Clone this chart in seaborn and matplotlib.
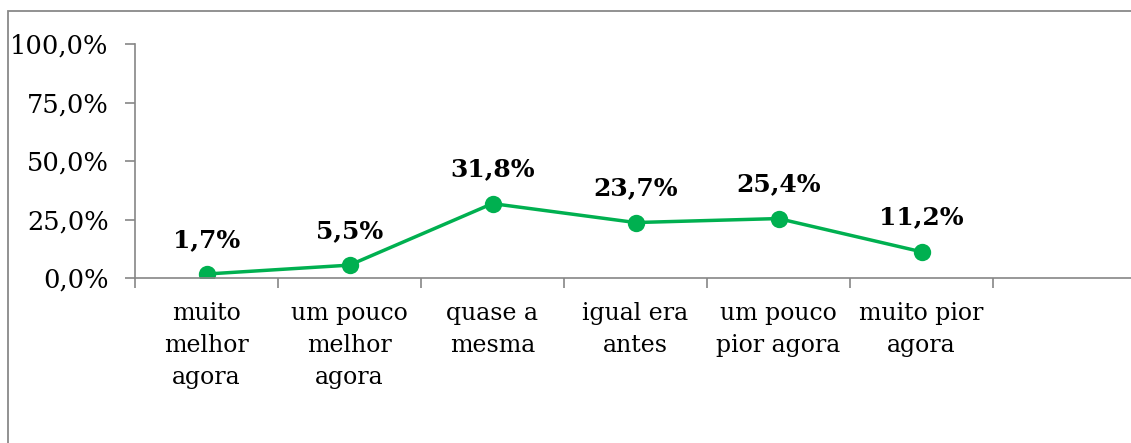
import matplotlib
matplotlib.use("Agg")
import matplotlib.pyplot as plt
import seaborn as sns
import pandas as pd
from matplotlib.patches import Rectangle
from matplotlib.ticker import FuncFormatter, FixedLocator

categorias = ["muito\nmelhor\nagora", "um pouco\nmelhor\nagora", "quase a\nmesma",
              "igual era\nantes", "um pouco\npior agora", "muito pior\nagora"]
valores = [1.7, 5.5, 31.8, 23.7, 25.4, 11.2]
rotulos = ["1,7%", "5,5%", "31,8%", "23,7%", "25,4%", "11,2%"]

sns.set_style("white")
plt.rcParams["font.family"] = ["DejaVu Serif"]
plt.rcParams["text.color"] = "black"
plt.rcParams["xtick.labelcolor"] = "black"
plt.rcParams["ytick.labelcolor"] = "black"

df = pd.DataFrame({"cat": categorias, "val": valores})

W, H = 1131, 443
fig = plt.figure(figsize=(W / 100, H / 100), dpi=100)
ax = fig.add_axes([135 / W, (H - 278) / H, 1001 / W, 234 / H])

verde = "#00B050"
cinza = "#868686"
sns.lineplot(data=df, x="cat", y="val", ax=ax, color=verde, linewidth=2.5,
             marker="o", markersize=12.5, markeredgewidth=0, sort=False)

for i, (v, t) in enumerate(zip(valores, rotulos)):
    ax.annotate(t, (i, v), xytext=(0, 16), textcoords="offset points",
                ha="center", va="bottom", fontsize=18, fontweight="bold", color="black")

ax.set_ylim(0, 100)
ax.set_xlim(-0.5, 6.5)
ax.set_yticks([0, 25, 50, 75, 100])
ax.yaxis.set_major_formatter(FuncFormatter(lambda v, p: f"{v:.1f}%".replace(".", ",")))
ax.set_xticks(range(len(categorias)))
ax.set_xticklabels(categorias, linespacing=1.5, ha="center", multialignment="center")
ax.xaxis.set_minor_locator(FixedLocator([k - 0.5 for k in range(8)]))
ax.tick_params(axis="x", which="major", length=0, pad=17, labelsize=17)
ax.tick_params(axis="x", which="minor", length=7, width=1.2, color=cinza, direction="out", bottom=True)
ax.tick_params(axis="y", length=7, width=1.2, color=cinza, direction="out", pad=12, labelsize=18.5, left=True)
ax.set_xlabel("")
ax.set_ylabel("")

for s in ["top", "right"]:
    ax.spines[s].set_visible(False)
for s in ["left", "bottom"]:
    ax.spines[s].set_color(cinza)
    ax.spines[s].set_linewidth(1.2)

fig.patches.append(Rectangle((8 / W, -0.1), 1.2, (H - 11) / H + 0.1, transform=fig.transFigure,
                             fill=False, edgecolor="#898989", linewidth=1.3))

fig.savefig("out.png", dpi=100)
